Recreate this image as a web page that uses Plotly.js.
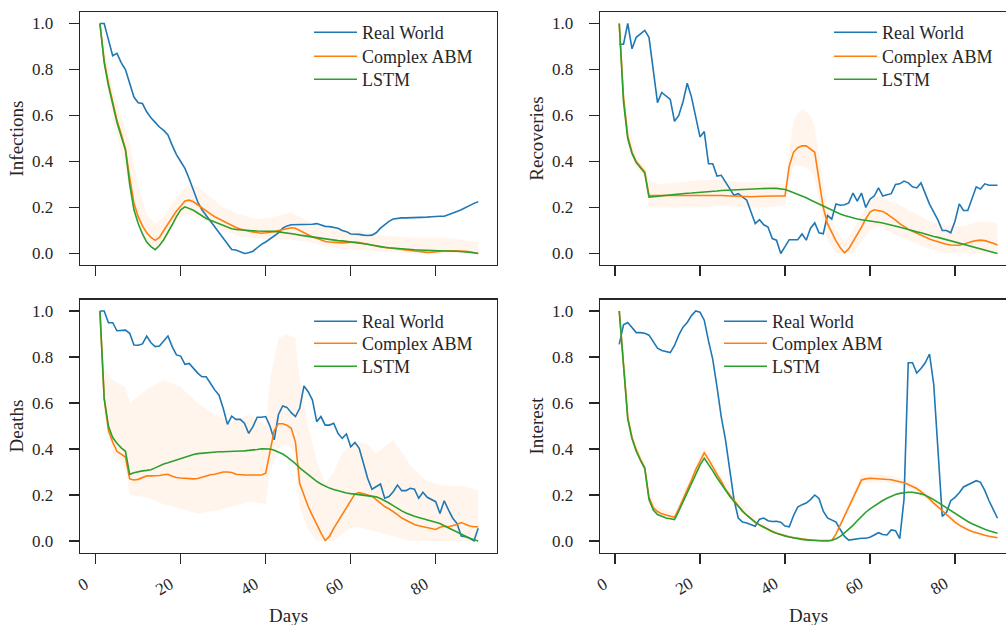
<!DOCTYPE html>
<html><head><meta charset="utf-8">
<script src="https://cdn.plot.ly/plotly-3.0.1.min.js"></script>
<style>html,body{margin:0;padding:0;background:#fff}#chart{width:1006px;height:625px}</style>
</head><body><div id="chart"></div>
<script>
const days = [1,2,3,4,5,6,7,8,9,10,11,12,13,14,15,16,17,18,19,20,21,22,23,24,25,26,27,28,29,30,31,32,33,34,35,36,37,38,39,40,41,42,43,44,45,46,47,48,49,50,51,52,53,54,55,56,57,58,59,60,61,62,63,64,65,66,67,68,69,70,71,72,73,74,75,76,77,78,79,80,81,82,83,84,85,86,87,88,89,90];
const xTicks = [0,20,40,60,80];
const xTickText = ['0','20','40','60','80'];
const yTicks = [0,0.2,0.4,0.6,0.8,1.0];
const seriesNames = ['Real World','Complex ABM','LSTM'];
const yTitles = ['Infections','Recoveries','Deaths','Interest'];
const xTitle = 'Days';

// Infections
const infReal = [1.0,1.0,0.93,0.86,0.87,0.83,0.80,0.74,0.68,0.655,
 0.652,0.616,0.59,0.57,0.55,0.535,0.515,0.47,0.43,0.40,
 0.37,0.325,0.275,0.225,0.19,0.165,0.14,0.115,0.09,0.065,
 0.04,0.017,0.015,0.006,0.0,0.003,0.01,0.025,0.04,0.05,
 0.063,0.075,0.09,0.11,0.12,0.125,0.125,0.125,0.125,0.125,
 0.127,0.13,0.125,0.118,0.117,0.115,0.11,0.1,0.095,0.085,
 0.085,0.083,0.08,0.078,0.08,0.09,0.11,0.125,0.14,0.15,
 0.153,0.155,0.155,0.155,0.155,0.156,0.157,0.158,0.16,0.162,
 0.162,0.162,0.168,0.175,0.183,0.19,0.2,0.21,0.218,0.225];
const infABM = [1.0,0.84,0.74,0.66,0.58,0.52,0.455,0.33,0.22,0.16,
 0.12,0.09,0.07,0.057,0.07,0.10,0.13,0.16,0.185,0.205,
 0.228,0.232,0.225,0.212,0.198,0.182,0.172,0.16,0.15,0.14,
 0.13,0.12,0.113,0.106,0.1,0.097,0.094,0.09,0.088,0.09,
 0.092,0.095,0.1,0.105,0.11,0.112,0.11,0.1,0.09,0.08,
 0.072,0.066,0.058,0.052,0.05,0.048,0.047,0.046,0.047,0.049,
 0.05,0.048,0.044,0.04,0.035,0.03,0.028,0.026,0.024,0.022,
 0.02,0.018,0.015,0.012,0.01,0.008,0.006,0.005,0.006,0.008,
 0.01,0.012,0.012,0.012,0.012,0.012,0.01,0.007,0.004,0.0];
const infLSTM = [1.0,0.83,0.73,0.65,0.57,0.51,0.45,0.30,0.19,0.13,
 0.085,0.05,0.03,0.017,0.035,0.06,0.09,0.125,0.16,0.19,
 0.203,0.197,0.188,0.176,0.162,0.152,0.145,0.138,0.13,0.122,
 0.114,0.108,0.104,0.102,0.1,0.1,0.099,0.098,0.098,0.098,
 0.097,0.096,0.094,0.092,0.09,0.087,0.084,0.08,0.077,0.074,
 0.071,0.068,0.065,0.062,0.06,0.058,0.056,0.055,0.053,0.051,
 0.049,0.047,0.044,0.04,0.037,0.033,0.03,0.027,0.025,0.023,
 0.021,0.02,0.018,0.017,0.016,0.015,0.014,0.013,0.012,0.012,
 0.011,0.011,0.01,0.01,0.01,0.009,0.007,0.005,0.003,0.0];
const infBandDays = [1,2,4,6,8,10,12,14,16,18,20,22,24,26,28,30,34,38,42,46,50,54,58,62,66,70,74,78,82,86,90];
const infBandHigh = [1.0,0.9,0.72,0.6,0.48,0.3,0.17,0.13,0.16,0.22,0.27,0.3,0.29,0.26,0.23,0.2,0.17,0.15,0.16,0.18,0.14,0.11,0.1,0.1,0.08,0.075,0.07,0.07,0.07,0.06,0.05];
const infBandLow = [1.0,0.8,0.58,0.44,0.28,0.12,0.05,0.02,0.06,0.12,0.16,0.17,0.16,0.14,0.12,0.1,0.075,0.065,0.06,0.06,0.05,0.03,0.02,0.015,0.01,0.005,0.0,0.0,0.0,0.0,0.0];

// Recoveries
const recReal = [0.91,0.91,1.0,0.89,0.94,0.955,0.97,0.94,0.80,0.656,
 0.70,0.685,0.67,0.575,0.60,0.66,0.74,0.68,0.60,0.507,
 0.53,0.39,0.39,0.337,0.34,0.31,0.28,0.253,0.26,0.245,
 0.232,0.18,0.13,0.147,0.125,0.115,0.065,0.058,0.0,0.03,
 0.06,0.06,0.06,0.085,0.058,0.11,0.133,0.09,0.086,0.165,
 0.15,0.215,0.21,0.212,0.22,0.263,0.228,0.263,0.2,0.236,
 0.25,0.285,0.25,0.255,0.26,0.30,0.303,0.315,0.307,0.29,
 0.285,0.307,0.26,0.215,0.18,0.145,0.1,0.1,0.09,0.14,
 0.216,0.187,0.187,0.24,0.29,0.28,0.303,0.297,0.297,0.297];
const recABM = [1.0,0.68,0.51,0.44,0.40,0.375,0.355,0.252,0.252,0.252,
 0.253,0.253,0.253,0.253,0.254,0.254,0.254,0.255,0.255,0.255,
 0.255,0.255,0.254,0.253,0.252,0.251,0.25,0.25,0.249,0.248,
 0.247,0.247,0.248,0.249,0.25,0.25,0.25,0.25,0.25,0.25,
 0.38,0.44,0.46,0.468,0.468,0.455,0.44,0.32,0.2,0.13,
 0.09,0.055,0.025,0.003,0.02,0.05,0.085,0.115,0.15,0.18,
 0.19,0.188,0.183,0.172,0.16,0.145,0.13,0.117,0.106,0.097,
 0.088,0.078,0.07,0.063,0.057,0.051,0.045,0.04,0.037,0.036,
 0.036,0.04,0.047,0.052,0.056,0.058,0.056,0.052,0.045,0.037];
const recLSTM = [1.0,0.66,0.50,0.435,0.395,0.37,0.35,0.245,0.247,0.25,
 0.252,0.255,0.257,0.258,0.26,0.261,0.262,0.263,0.264,0.265,
 0.267,0.269,0.271,0.272,0.274,0.275,0.277,0.278,0.279,0.28,
 0.281,0.282,0.282,0.283,0.284,0.284,0.284,0.283,0.281,0.278,
 0.272,0.265,0.258,0.25,0.242,0.233,0.224,0.216,0.206,0.197,
 0.188,0.18,0.172,0.165,0.159,0.154,0.15,0.147,0.145,0.142,
 0.139,0.136,0.133,0.129,0.124,0.12,0.115,0.11,0.104,0.098,
 0.094,0.09,0.084,0.078,0.074,0.07,0.065,0.06,0.055,0.05,
 0.045,0.04,0.035,0.03,0.025,0.02,0.015,0.01,0.005,0.0];
const recBandDays = [1,2,3,5,7,8,10,15,20,25,30,35,40,41,42,44,46,47,48,50,52,54,56,58,60,62,66,70,74,78,82,86,90];
const recBandHigh = [1.0,0.72,0.56,0.43,0.38,0.32,0.3,0.31,0.32,0.32,0.31,0.31,0.3,0.45,0.58,0.63,0.6,0.55,0.42,0.2,0.1,0.05,0.1,0.17,0.23,0.25,0.22,0.18,0.14,0.12,0.12,0.14,0.13];
const recBandLow = [1.0,0.62,0.47,0.37,0.33,0.2,0.2,0.2,0.2,0.21,0.2,0.2,0.21,0.32,0.38,0.38,0.36,0.33,0.22,0.06,0.0,0.0,0.0,0.05,0.1,0.12,0.08,0.05,0.02,0.0,0.0,0.0,0.0];

// Deaths
const deaReal = [1.0,1.0,0.949,0.949,0.914,0.914,0.917,0.903,0.852,0.851,
 0.857,0.891,0.862,0.845,0.848,0.87,0.891,0.845,0.809,0.804,
 0.768,0.772,0.751,0.73,0.714,0.714,0.686,0.657,0.635,0.577,
 0.507,0.543,0.529,0.529,0.512,0.468,0.497,0.538,0.538,0.541,
 0.5,0.44,0.55,0.587,0.581,0.558,0.541,0.577,0.674,0.649,
 0.613,0.519,0.541,0.504,0.504,0.512,0.468,0.446,0.465,0.41,
 0.428,0.403,0.338,0.272,0.225,0.236,0.248,0.186,0.193,0.214,
 0.243,0.219,0.219,0.229,0.225,0.186,0.212,0.19,0.181,0.171,
 0.12,0.175,0.135,0.099,0.077,0.022,0.019,0.012,0.001,0.055];
const deaABM = [1.0,0.62,0.48,0.43,0.39,0.378,0.365,0.27,0.265,0.268,
 0.275,0.283,0.283,0.283,0.285,0.288,0.29,0.282,0.276,0.274,
 0.272,0.27,0.27,0.272,0.278,0.285,0.288,0.29,0.295,0.3,
 0.3,0.298,0.29,0.287,0.287,0.287,0.287,0.287,0.287,0.295,
 0.38,0.48,0.51,0.51,0.503,0.49,0.43,0.25,0.2,0.15,
 0.11,0.07,0.035,0.002,0.02,0.055,0.085,0.115,0.145,0.175,
 0.205,0.21,0.205,0.2,0.195,0.18,0.165,0.15,0.14,0.128,
 0.115,0.1,0.09,0.08,0.072,0.066,0.062,0.058,0.054,0.05,
 0.06,0.064,0.062,0.066,0.072,0.08,0.072,0.065,0.062,0.062];
const deaLSTM = [1.0,0.62,0.5,0.45,0.425,0.405,0.39,0.29,0.297,0.302,
 0.305,0.307,0.31,0.318,0.327,0.335,0.34,0.346,0.352,0.359,
 0.366,0.372,0.376,0.38,0.382,0.384,0.386,0.388,0.388,0.388,
 0.388,0.389,0.39,0.391,0.392,0.393,0.395,0.398,0.401,0.402,
 0.4,0.395,0.388,0.378,0.366,0.352,0.336,0.318,0.303,0.288,
 0.273,0.259,0.248,0.238,0.23,0.224,0.218,0.213,0.209,0.206,
 0.204,0.203,0.201,0.199,0.196,0.192,0.185,0.176,0.165,0.154,
 0.142,0.131,0.122,0.114,0.108,0.102,0.097,0.091,0.086,0.082,
 0.076,0.066,0.057,0.047,0.037,0.028,0.019,0.012,0.005,0.0];
const deaBandDays = [1,2,4,6,7,8,12,16,20,24,28,32,36,40,41,43,45,47,48,50,52,54,56,58,60,62,64,66,70,74,78,82,86,90];
const deaBandHigh = [1.0,0.75,0.7,0.68,0.67,0.6,0.66,0.7,0.67,0.6,0.55,0.52,0.55,0.5,0.7,0.88,0.9,0.88,0.7,0.5,0.35,0.25,0.3,0.38,0.42,0.43,0.42,0.38,0.44,0.33,0.26,0.24,0.24,0.22];
const deaBandLow = [1.0,0.55,0.38,0.34,0.32,0.2,0.19,0.16,0.14,0.12,0.13,0.15,0.17,0.16,0.3,0.4,0.42,0.38,0.15,0.05,0.0,0.0,0.0,0.03,0.06,0.06,0.05,0.04,0.02,0.0,0.0,0.0,0.0,0.0];

// Interest
const intReal = [0.855,0.94,0.95,0.93,0.906,0.906,0.903,0.895,0.865,0.838,
 0.828,0.822,0.819,0.85,0.895,0.93,0.95,0.98,1.0,0.995,
 0.96,0.87,0.79,0.67,0.54,0.44,0.3,0.18,0.1,0.082,
 0.078,0.07,0.064,0.095,0.1,0.088,0.085,0.086,0.082,0.065,
 0.062,0.11,0.148,0.158,0.165,0.18,0.2,0.185,0.13,0.1,
 0.092,0.082,0.05,0.02,0.004,0.007,0.012,0.012,0.012,0.016,
 0.026,0.036,0.028,0.026,0.048,0.045,0.01,0.18,0.775,0.775,
 0.73,0.75,0.775,0.813,0.68,0.4,0.107,0.125,0.175,0.19,
 0.21,0.235,0.245,0.255,0.262,0.255,0.22,0.175,0.135,0.099];
const intABM = [1.0,0.77,0.54,0.45,0.396,0.355,0.32,0.19,0.145,0.128,
 0.118,0.113,0.108,0.103,0.14,0.18,0.225,0.265,0.31,0.35,
 0.383,0.355,0.32,0.29,0.26,0.225,0.2,0.175,0.15,0.13,
 0.112,0.095,0.08,0.07,0.06,0.05,0.04,0.034,0.028,0.022,
 0.018,0.014,0.011,0.008,0.006,0.004,0.003,0.002,0.001,0.0,
 0.002,0.03,0.07,0.11,0.15,0.19,0.23,0.265,0.27,0.273,
 0.272,0.271,0.27,0.268,0.266,0.262,0.258,0.253,0.246,0.238,
 0.228,0.215,0.2,0.183,0.165,0.148,0.13,0.113,0.097,0.082,
 0.069,0.058,0.049,0.041,0.035,0.03,0.025,0.021,0.017,0.014];
const intLSTM = [1.0,0.76,0.53,0.445,0.39,0.35,0.315,0.18,0.135,0.115,
 0.107,0.1,0.097,0.093,0.13,0.17,0.21,0.25,0.29,0.33,
 0.36,0.335,0.305,0.275,0.248,0.22,0.195,0.172,0.15,0.13,
 0.112,0.096,0.082,0.07,0.06,0.05,0.041,0.034,0.027,0.022,
 0.017,0.013,0.01,0.007,0.005,0.003,0.002,0.001,0.0,0.0,
 0.003,0.01,0.02,0.035,0.05,0.068,0.088,0.108,0.125,0.14,
 0.153,0.165,0.176,0.186,0.195,0.202,0.207,0.21,0.212,0.212,
 0.21,0.205,0.199,0.19,0.18,0.168,0.156,0.144,0.131,0.119,
 0.107,0.096,0.085,0.075,0.066,0.058,0.051,0.045,0.039,0.034];
const intBandDays = [1,4,7,8,10,14,18,21,24,28,34,40,46,51,55,58,62,66,70,74,78,82,86,90];
const intBandHigh = [1.0,0.47,0.34,0.21,0.15,0.12,0.29,0.41,0.31,0.2,0.085,0.03,0.008,0.006,0.17,0.29,0.29,0.28,0.255,0.205,0.13,0.07,0.035,0.02];
const intBandLow = [1.0,0.43,0.3,0.17,0.11,0.09,0.25,0.36,0.27,0.16,0.06,0.016,0.002,0.0,0.13,0.25,0.255,0.25,0.225,0.17,0.1,0.05,0.025,0.01];

const COLORS = ['#1f77b4','#ff7f0e','#2ca02c'];
const BAND = 'rgba(255,127,14,0.075)';
const FONT = 'Liberation Serif, Times New Roman, serif';
const INK = '#262626';
const W = 1006, H = 625;

function legName(k) { return k === 1 ? 'legend' : 'legend' + k; }

function panel(n, real, abm, lstm, bd, hi, lo) {
  const xa = n === 1 ? 'x' : 'x' + n, ya = n === 1 ? 'y' : 'y' + n;
  const base = {xaxis: xa, yaxis: ya, mode: 'lines', hoverinfo: 'skip'};
  const lines = [real, abm, lstm].map(function (vals, s) {
    return Object.assign({}, base, {x: days, y: vals, name: seriesNames[s],
      legend: legName((n - 1) * 3 + s + 1), line: {color: COLORS[s], width: 1.6}});
  });
  return [
    Object.assign({}, base, {x: bd, y: lo, line: {width: 0, color: BAND}, showlegend: false}),
    Object.assign({}, base, {x: bd, y: hi, line: {width: 0, color: BAND}, fill: 'tonexty', fillcolor: BAND, showlegend: false})
  ].concat(lines);
}

const data = [].concat(
  panel(1, infReal, infABM, infLSTM, infBandDays, infBandHigh, infBandLow),
  panel(2, recReal, recABM, recLSTM, recBandDays, recBandHigh, recBandLow),
  panel(3, deaReal, deaABM, deaLSTM, deaBandDays, deaBandHigh, deaBandLow),
  panel(4, intReal, intABM, intLSTM, intBandDays, intBandHigh, intBandLow)
);

const leftDom = [80 / W, 497 / W], rightDom = [600 / W, 1];
const topDom = [1 - 265 / H, 1 - 12 / H], botDom = [1 - 552.5 / H, 1 - 299.5 / H];
const leftRange = [-3.69, 94.42], rightRange = [-3.53, 92.0];

function xAx(dom, range, anchor) {
  return {domain: dom, range: range, anchor: anchor, showgrid: false, zeroline: false,
    showline: true, linecolor: INK, linewidth: 1.3, mirror: true,
    ticks: 'outside', ticklen: 10, tickwidth: 1.3, tickcolor: INK,
    tickvals: xTicks, showticklabels: false, fixedrange: true};
}
function yAx(dom, anchor, title, mirror) {
  return {domain: dom, range: [-0.05, 1.05], anchor: anchor, showgrid: false, zeroline: false,
    showline: true, linecolor: INK, linewidth: 1.3, mirror: mirror,
    ticks: 'outside', ticklen: 10, tickwidth: 1.3, tickcolor: INK,
    tickvals: yTicks, tickformat: '.1f', ticklabelstandoff: 12,
    tickfont: {family: FONT, size: 17, color: INK}, fixedrange: true,
    title: {text: title, font: {family: FONT, size: 19, color: INK}, standoff: 3}};
}

const layout = {
  width: W, height: H, margin: {l: 0, r: 0, t: 0, b: 0},
  paper_bgcolor: '#fff', plot_bgcolor: '#fff',
  xaxis: xAx(leftDom, leftRange, 'y'),
  yaxis: yAx(topDom, 'x', yTitles[0], true),
  xaxis2: xAx(rightDom, rightRange, 'y2'),
  yaxis2: yAx(topDom, 'x2', yTitles[1], false),
  xaxis3: xAx(leftDom, leftRange, 'y3'),
  yaxis3: yAx(botDom, 'x3', yTitles[2], true),
  xaxis4: xAx(rightDom, rightRange, 'y4'),
  yaxis4: yAx(botDom, 'x4', yTitles[3], false),
  annotations: []
};

// one legend per entry so rows can be spaced as in the original
const legendX = [309, 829, 309, 719];
const legendRowTop = [[14, 38, 61], [14, 38, 61], [303, 325, 348], [303, 325, 348]];
for (let p = 0; p < 4; p++) {
  for (let s = 0; s < 3; s++) {
    layout[legName(p * 3 + s + 1)] = {x: legendX[p] / W, y: 1 - legendRowTop[p][s] / H,
      xanchor: 'left', yanchor: 'top', bgcolor: 'rgba(0,0,0,0)', borderwidth: 0,
      itemwidth: 43, traceorder: 'normal', font: {family: FONT, size: 18, color: INK}};
  }
}

// rotated x tick labels and x titles on the bottom row
['x3', 'x4'].forEach(function (xr) {
  xTicks.forEach(function (t, i) {
    layout.annotations.push({x: t, xref: xr, y: botDom[0], yref: 'paper', yshift: -19, xshift: -1,
      text: xTickText[i], textangle: -30, xanchor: 'right', yanchor: 'top', showarrow: false,
      font: {family: FONT, size: 17, color: INK}});
  });
});
layout.annotations.push({x: 288.5 / W, xref: 'paper', y: 1 - 615 / H, yref: 'paper', text: xTitle,
  xanchor: 'center', yanchor: 'middle', showarrow: false, font: {family: FONT, size: 19, color: INK}});
layout.annotations.push({x: 808 / W, xref: 'paper', y: 1 - 615 / H, yref: 'paper', text: xTitle,
  xanchor: 'center', yanchor: 'middle', showarrow: false, font: {family: FONT, size: 19, color: INK}});

Plotly.newPlot('chart', data, layout, {displayModeBar: false, staticPlot: true});
</script></body></html>
